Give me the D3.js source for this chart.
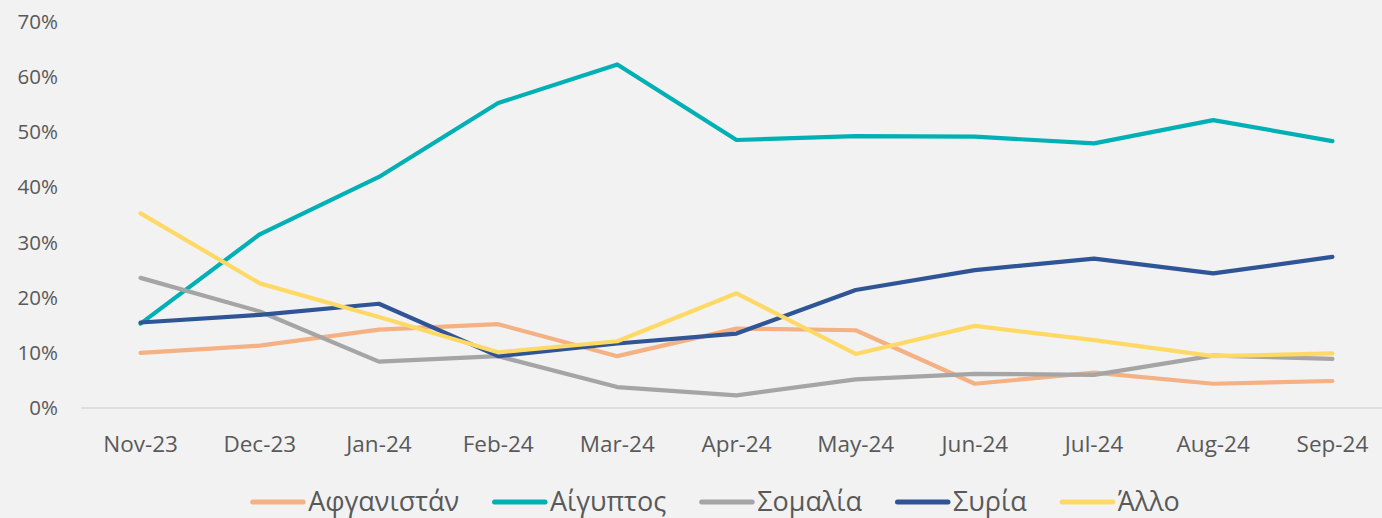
<!DOCTYPE html>
<html>
<head>
<meta charset="utf-8">
<script src="https://cdn.jsdelivr.net/npm/d3@7"></script>
<style>
  html, body { margin: 0; padding: 0; background: #f2f2f2; }
  svg { display: block; font-family: "Open Sans", "Noto Sans", sans-serif; }
</style>
</head>
<body>
<svg id="chart"></svg>
<script>
// Months on the x axis
const months = ['Nov-23', 'Dec-23', 'Jan-24', 'Feb-24', 'Mar-24', 'Apr-24', 'May-24', 'Jun-24', 'Jul-24', 'Aug-24', 'Sep-24'];

// Shares in %
const afghanistan = [10.0, 11.3, 14.2, 15.2, 9.4, 14.4, 14.1, 4.4, 6.4, 4.4, 4.9];
const egypt       = [15.3, 31.5, 41.9, 55.3, 62.3, 48.6, 49.3, 49.2, 48.0, 52.2, 48.4];
const somalia     = [23.6, 17.5, 8.4, 9.4, 3.8, 2.3, 5.2, 6.2, 6.0, 9.5, 8.9];
const syria       = [15.5, 16.9, 18.9, 9.4, 11.7, 13.5, 21.4, 25.0, 27.1, 24.4, 27.4];
const other       = [35.3, 22.6, 16.5, 10.1, 12.1, 20.8, 9.8, 14.9, 12.3, 9.4, 9.9];

const yTicks = [0, 10, 20, 30, 40, 50, 60, 70];

const series = [
  { name: 'Αφγανιστάν', values: afghanistan, color: '#f4b183' },
  { name: 'Αίγυπτος', values: egypt, color: '#00b0b4' },
  { name: 'Σομαλία', values: somalia, color: '#a5a5a5' },
  { name: 'Συρία', values: syria, color: '#2f5597' },
  { name: 'Άλλο', values: other, color: '#ffd966' }
];

const width = 1382, height = 518;
const margin = { top: 22, left: 81, bottom: 110 };
const plotRight = 1392;

const svg = d3.select('#chart')
  .attr('width', width)
  .attr('height', height);

svg.append('rect')
  .attr('width', width)
  .attr('height', height)
  .attr('fill', '#f2f2f2');

const x = d3.scaleBand().domain(months).range([margin.left, plotRight]).padding(0);
const y = d3.scaleLinear().domain([0, 70]).range([height - margin.bottom, margin.top]);

// y axis (labels only)
const yAxis = d3.axisLeft(y)
  .tickValues(yTicks)
  .tickSize(0)
  .tickPadding(0)
  .tickFormat(d => d + '%');

svg.append('g')
  .attr('transform', `translate(58,0)`)
  .call(yAxis)
  .call(g => g.select('.domain').remove())
  .selectAll('text')
  .attr('fill', '#595959')
  .style('font-size', '20.5px')
  .style('font-family', '"Open Sans", sans-serif');

// x axis
const xAxis = d3.axisBottom(x).tickSize(0).tickPadding(28);
svg.append('g')
  .attr('transform', `translate(0,${y(0)})`)
  .call(xAxis)
  .call(g => g.select('.domain').attr('stroke', '#d9d9d9').attr('stroke-width', 1.3)
    .attr('d', `M${margin.left},0H${width}`))
  .selectAll('text')
  .attr('fill', '#595959')
  .style('font-size', '22.5px')
  .style('font-family', '"Open Sans", sans-serif');

// lines
const line = d3.line()
  .x((d, i) => x(months[i]) + x.bandwidth() / 2)
  .y(d => y(d));

svg.append('g')
  .selectAll('path')
  .data(series)
  .join('path')
  .attr('d', d => line(d.values))
  .attr('fill', 'none')
  .attr('stroke', d => d.color)
  .attr('stroke-width', 4.2)
  .attr('stroke-linejoin', 'round')
  .attr('stroke-linecap', 'round');

// legend
const legend = svg.append('g').attr('transform', `translate(0,502)`);
const swatch = 53, gapText = 5, gapItem = 33;
const items = legend.selectAll('g')
  .data(series)
  .join('g');

items.append('line')
  .attr('x1', 2.5).attr('x2', swatch)
  .attr('y1', 0).attr('y2', 0)
  .attr('stroke', d => d.color)
  .attr('stroke-width', 5)
  .attr('stroke-linecap', 'round');

items.append('text')
  .attr('x', swatch + gapText)
  .attr('y', 9)
  .attr('fill', '#595959')
  .style('font-size', '27px')
  .text(d => d.name);

const widths = [];
items.each(function () {
  const w = swatch + gapText + d3.select(this).select('text').node().getComputedTextLength();
  widths.push(w);
});
const total = d3.sum(widths) + gapItem * (widths.length - 1);
let cx = 715 - total / 2;
items.attr('transform', (d, i) => {
  const t = `translate(${cx},0)`;
  cx += widths[i] + gapItem;
  return t;
});
</script>
</body>
</html>
